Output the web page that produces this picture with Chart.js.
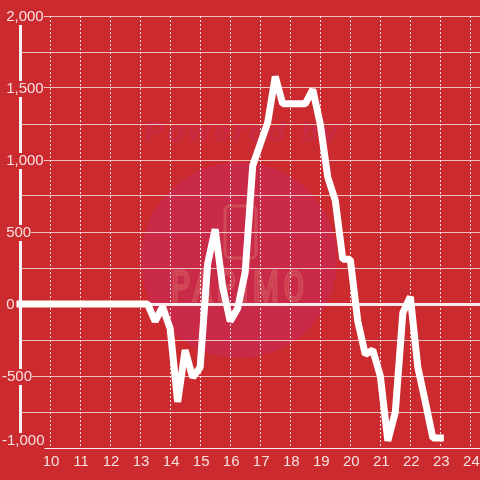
<!DOCTYPE html>
<html>
<head>
<meta charset="utf-8">
<script src="https://cdn.jsdelivr.net/npm/chart.js@4"></script>
<style>
html, body { margin: 0; padding: 0; background: #cb2a2e; }
canvas { display: block; }
</style>
</head>
<body>
<canvas id="chart" width="480" height="480"></canvas>
<script>
const hours = [9,9.25,9.5,9.75,10,10.25,10.5,10.75,11,11.25,11.5,11.75,12,12.25,12.5,12.75,13,13.25,13.5,13.75,14,14.25,14.5,14.75,15,15.25,15.5,15.75,16,16.25,16.5,16.75,17,17.25,17.5,17.75,18,18.25,18.5,18.75,19,19.25,19.5,19.75,20,20.25,20.5,20.75,21,21.25,21.5,21.75,22,22.25,22.5,22.75,23];
const values = [0,0,0,0,0,0,0,0,0,0,0,0,0,0,0,0,0,0,-120,-20,-170,-680,-320,-510,-440,280,520,120,-120,-30,220,960,1110,1260,1580,1390,1390,1390,1390,1490,1250,880,720,310,310,-120,-350,-320,-500,-950,-750,-60,50,-440,-680,-930,-930];
const hourTicks = [10,11,12,13,14,15,16,17,18,19,20,21,22,23,24];
const valueLabels = { "2000": " 2,000", "1500": " 1,500", "1000": " 1,000", "500": " 500", "0": " 0", "-500": "-500", "-1000": "-1,000" };

// watermark sits under the grid
const watermark = {
    id: 'watermark',
    beforeDraw(chart) {
        const ctx = chart.ctx;
        ctx.save();
        ctx.fillStyle = '#c92a47';
        ctx.beginPath();
        ctx.arc(239, 260, 98, 0, Math.PI * 2);
        ctx.fill();

        ctx.fillStyle = '#c92a44';
        ctx.font = 'italic bold 28px "Liberation Sans"';
        ctx.letterSpacing = '4px';
        ctx.textAlign = 'center';
        ctx.textBaseline = 'middle';
        ctx.fillText('Powered by', 243, 133);

        ctx.strokeStyle = '#d04a58';
        ctx.lineWidth = 3;
        ctx.beginPath();
        ctx.roundRect(225, 206, 31, 52, 5);
        ctx.stroke();

        ctx.lineWidth = 3;
        ctx.letterSpacing = '7px';
        ctx.font = '42px Roboto';
        ctx.translate(240, 290);
        ctx.scale(0.7, 1);
        ctx.strokeText('PAPIMO', 0, 0);
        ctx.restore();

        // the bottom value label sits above its grid line, the rest 1px lower
        const y = chart.scales.y;
        y.getLabelItems().forEach(it => {
            if (it.label === valueLabels["-1000"]) it.options.translation[1] = y.bottom - 7;
            else it.options.translation[1] = Math.round(it.options.translation[1]) + 1;
        });
        chart.scales.x.getLabelItems().forEach(it => { it.options.translation[0] += 1; });
    }
};

new Chart(document.getElementById('chart'), {
    type: 'line',
    data: {
        labels: hours,
        datasets: [{
            data: hours.map((h, i) => ({ x: h, y: values[i] })),
            borderColor: '#ffffff',
            borderWidth: 7,
            borderCapStyle: 'square',
            borderJoinStyle: 'bevel',
            pointRadius: 0,
            tension: 0,
            clip: false
        }]
    },
    plugins: [watermark],
    options: {
        responsive: false,
        animation: false,
        layout: { padding: { top: 16 } },
        plugins: { legend: { display: false }, tooltip: { enabled: false } },
        scales: {
            x: {
                type: 'linear',
                min: 9,
                max: 24.32,
                afterFit(scale) { scale.height = 32; scale.paddingLeft = 0; scale.paddingRight = 0; },
                afterBuildTicks(scale) { scale.ticks = hourTicks.map(v => ({ value: v })); },
                grid: { color: 'rgba(255,255,255,0.85)', lineWidth: 1, drawTicks: false },
                border: { display: true, dash: [2, 2], color: 'rgba(255,255,255,0.7)', width: 1 },
                ticks: {
                    autoSkip: false,
                    maxRotation: 0,
                    padding: 5,
                    color: 'rgba(255,255,255,0.85)',
                    font: { family: '"Liberation Sans"', size: 15 },
                    callback: v => String(v)
                }
            },
            y: {
                min: -1000,
                max: 2000,
                afterFit(scale) { scale.width = 20; scale.paddingTop = 0; scale.paddingBottom = 0; },
                grid: {
                    drawTicks: false,
                    color: c => c.tick.value === 0 ? 'rgba(255,255,255,0.9)' : 'rgba(255,255,255,0.7)',
                    lineWidth: c => c.tick.value === 0 ? 3 : 1
                },
                border: { display: true, color: '#f2f2f2', width: 3 },
                ticks: {
                    stepSize: 250,
                    autoSkip: false,
                    mirror: true,
                    crossAlign: 'near',
                    padding: -18,
                    color: 'rgba(255,255,255,0.85)',
                    showLabelBackdrop: c => c.tick.label !== '',
                    backdropColor: '#cb2a2e',
                    backdropPadding: 0,
                    font: { family: '"Liberation Sans"', size: 15, lineHeight: '16px' },
                    callback: v => valueLabels[v] || ''
                }
            }
        }
    }
});
</script>
</body>
</html>
